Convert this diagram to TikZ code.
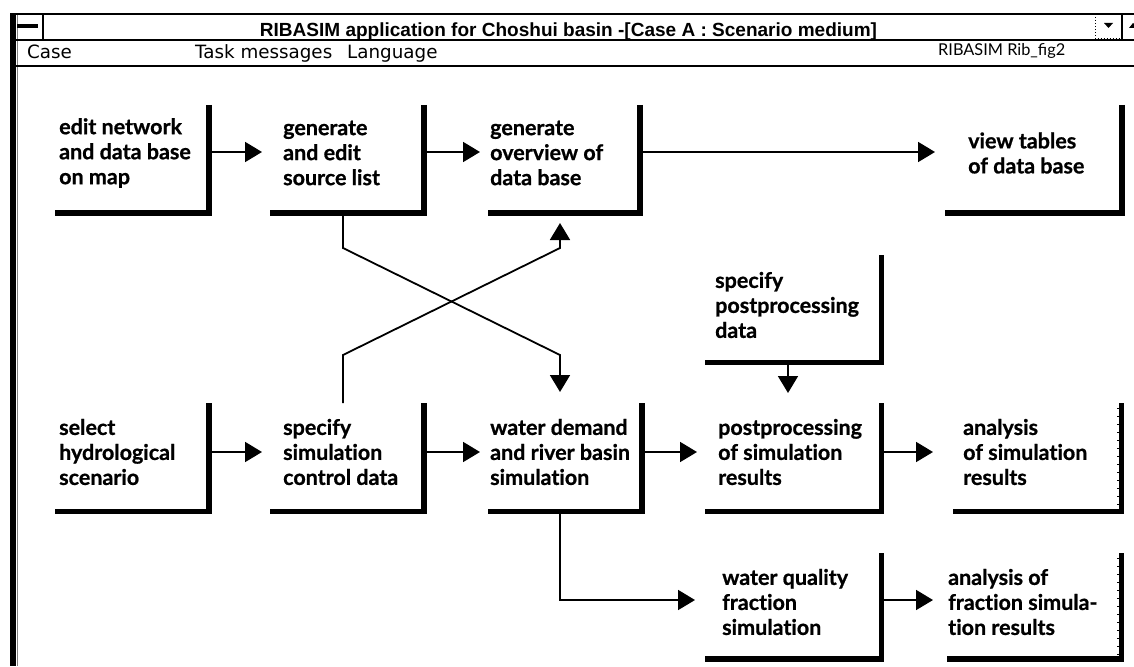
\documentclass[tikz,border=0pt]{standalone}
\usepackage{fontspec}
\usetikzlibrary{arrows.meta,calc,fit}
\newfontfamily\boxfont{Lato}[Ligatures=NoCommon, BoldFeatures={FakeBold=0.8}]
\newfontfamily\menufont{DejaVu Sans}
\newfontfamily\titlefont{Liberation Sans}
\newfontfamily\tagfont{Lato}

% One process step: an open frame (right and bottom edges only) with its text.
% #1 name, #2 left, #3 top, #4 right, #5 bottom, #6 text x, #7 text y, #8 text
\newcommand\flowbox[8]{%
  \node[boxarea, fit={(#2,#3) (#4,#5)}] (#1) {};
  \draw[lframe] (#1.north east) -- (#1.south east) -- (#1.south west);
  \node[boxtext] (#1-t) at (#6,#7) {#8};
}

\begin{document}
\begin{tikzpicture}[x=1pt,y=-1pt,
  lframe/.style={line width=5.5pt, line join=miter},
  wire/.style={line width=1.8pt},
  arr/.style={wire, -{Triangle[length=17pt,width=20pt]}},
  boxarea/.style={inner sep=0pt, outer sep=0pt},
  boxtext/.style={anchor=west, inner sep=0pt, align=left,
    font={\boxfont\bfseries\fontsize{21.5}{25}\selectfont}},
  menutext/.style={anchor=base west, inner sep=0pt,
    font={\menufont\fontsize{18.3}{20}\selectfont}},
]
\useasboundingbox (0,0) rectangle (1134,666);
\fill[white] (0,0) rectangle (1134,666);

% window frame
\fill (10,13) rectangle (16,666);
\draw[gray, line width=1pt] (17.5,15) -- (17.5,666);
\draw[line width=2pt] (10,14) -- (1134,14);
\draw[line width=1.5pt] (16,40) -- (1134,40);
\draw[line width=2pt] (16,66.5) -- (1134,66.5);

% control box at the left of the title bar
\draw[line width=2pt] (42.5,14) -- (42.5,40);
\fill (17,24.5) rectangle (38,28);

% minimise / maximise buttons at the right
\draw[line width=1pt, dash pattern=on 1pt off 2pt] (1095,17) -- (1095,38.5) -- (1121,38.5);
\fill (1104,23) -- (1113,23) -- (1108.5,28) -- cycle;
\draw[line width=1.5pt] (1122,14) -- (1122,40);
\fill (1129,28) -- (1133,23) -- (1134,24) -- (1134,28) -- cycle;

% title and menu
\node[anchor=base, inner sep=0pt] (title) at (568.5,37)
  {\resizebox{617pt}{!}{\titlefont\bfseries RIBASIM application for Choshui basin -[Case A : Scenario medium]}};
\node[menutext] (mcase) at (27,59) {Case};
\node[menutext] (mtask) at (195,59) {Task messages};
\node[menutext] (mlang) at (347,59) {Language};
\node[anchor=base west, inner sep=0pt] (mtag) at (938,56)
  {\resizebox{127pt}{!}{\tagfont RIBASIM Rib\_fig2}};

% process steps
\flowbox{edit}{55}{105}{209}{213}{59}{153}{edit network\\and data base\\on map}
\flowbox{source}{270}{105}{424}{213}{283}{153}{generate\\and edit\\source list}
\flowbox{overview}{488}{105}{640}{213}{490}{153}{generate\\overview of\\data base}
\flowbox{tables}{945}{105}{1122}{213}{968}{153}{view tables\\of data base}
\flowbox{ppdata}{705}{255}{881.5}{362.5}{715}{305}{specify\\postprocessing\\data}
\flowbox{hydro}{55}{403}{209}{511.5}{59}{452}{select\\hydrological\\scenario}
\flowbox{control}{270}{403}{424}{511.5}{283}{452}{specify\\simulation\\control data}
\flowbox{demand}{488}{403}{642}{511.5}{490}{452}{water demand\\and river basin\\simulation}
\flowbox{post}{705}{403}{881.5}{511.5}{718}{452}{postprocessing\\of simulation\\results}
\flowbox{analysis}{953}{403}{1121.5}{511.5}{963}{452}{analysis\\of simulation\\results}
\flowbox{quality}{705}{553}{881.5}{659}{722}{602}{water quality\\fraction\\simulation}
\flowbox{fraction}{947}{553}{1121.5}{659}{948}{602}{analysis of\\fraction simula-\\tion results}

% speckle along the right edges of the two analysis frames
\draw[line width=2pt, dash pattern=on 1pt off 7pt] (1118,408) -- (1118,507);
\draw[line width=2pt, dash pattern=on 1pt off 7pt] (1118,558) -- (1118,656);

% row heights of the horizontal connectors
\coordinate (r1) at (0,152);
\coordinate (r3) at (0,452);
\coordinate (r4) at (0,600);

\draw[arr] (edit.east |- r1) -- ($(source.west |- r1)+(-8,0)$);
\draw[arr] (source.east |- r1) -- ($(overview.west |- r1)+(-8,0)$);
\draw[arr] (overview.east |- r1) -- ($(tables.west |- r1)+(-10,0)$);

\draw[arr] (hydro.east |- r3) -- ($(control.west |- r3)+(-8,0)$);
\draw[arr] (control.east |- r3) -- ($(demand.west |- r3)+(-8,0)$);
\draw[arr] (demand.east |- r3) -- ($(post.west |- r3)+(-8,0)$);
\draw[arr] (post.east |- r3) -- ($(analysis.west |- r3)+(-20,0)$);

\draw[arr] (quality.east |- r4) -- ($(fraction.west |- r4)+(-14,0)$);

% crossing connectors between the two rows
\coordinate (xa1) at (343,248);
\coordinate (xa2) at (560,355);
\draw[arr] ($(source.south west)+(73,0)$) -- (xa1) -- (xa2)
  -- ($(demand.north west)+(72,-11)$);
\draw[arr] ($(control.north west)+(73,0)$) -- (343,355) -- (560,248)
  -- ($(overview.south west)+(72,10)$);

% branch to the water quality simulation
\draw[arr] ($(demand.south west)+(72,0)$) |- ($(quality.west |- r4)+(-10,0)$);

% postprocessing data feeds the postprocessing step
\draw[arr] ($(ppdata.south west)+(83,0)$) -- ($(post.north west)+(83,-10)$);
\end{tikzpicture}
\end{document}
